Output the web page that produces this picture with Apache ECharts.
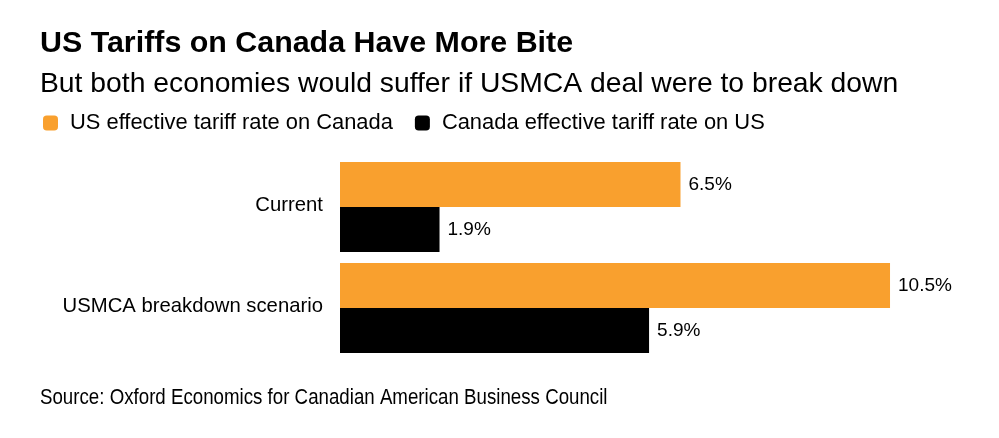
<!DOCTYPE html>
<html>
<head>
<meta charset="utf-8">
<script src="https://cdn.jsdelivr.net/npm/echarts@6/dist/echarts.min.js"></script>
<style>
  html, body { margin: 0; padding: 0; background: #fff; }
  #chart { width: 999px; height: 438px; }
</style>
</head>
<body>
<div id="chart"></div>
<script>
// data
const categories = ['Current', 'USMCA breakdown scenario'];
const seriesNames = ['US effective tariff rate on Canada', 'Canada effective tariff rate on US'];
const usOnCanada = [6.5, 10.5];
const canadaOnUs = [1.9, 5.9];

const font = '"Liberation Sans", Arial, sans-serif';
const orange = '#F9A02E';

const chart = echarts.init(document.getElementById('chart'), null, { renderer: 'canvas' });

const valueLabel = {
  show: true,
  position: 'right',
  distance: 8,
  color: '#000',
  fontFamily: font,
  fontSize: 19,
  formatter: p => p.value + '%'
};

chart.setOption({
  animation: false,
  backgroundColor: '#fff',
  title: [
    {
      text: 'US Tariffs on Canada Have More Bite',
      left: 40, top: 29, padding: 0,
      textStyle: { fontFamily: font, fontSize: 30.4, fontWeight: 'bold', color: '#000', lineHeight: 30 }
    },
    {
      text: 'But both economies would suffer if USMCA deal were to break down',
      left: 40, top: 70, padding: 0,
      textStyle: { fontFamily: font, fontSize: 28.3, fontWeight: 'normal', color: '#000', lineHeight: 28 }
    }
  ],
  legend: {
    left: 43, top: 109,
    padding: 0,
    itemWidth: 15, itemHeight: 15,
    itemGap: 22,
    icon: 'roundRect',
    selectedMode: false,
    data: seriesNames,
    textStyle: {
      fontFamily: font, fontSize: 21.9, color: '#000',
      lineHeight: 22, padding: [0, 0, 6, 7]
    }
  },
  grid: { left: 340, top: 156.5, height: 202, width: 628.6, containLabel: false },
  xAxis: {
    type: 'value', min: 0, max: 12,
    show: false
  },
  yAxis: {
    type: 'category',
    data: categories,
    inverse: true,
    axisLine: { show: false },
    axisTick: { show: false },
    splitLine: { show: false },
    axisLabel: {
      margin: 17,
      color: '#000',
      fontFamily: font,
      fontSize: 20.3,
      verticalAlign: 'bottom',
      lineHeight: 4
    }
  },
  series: [
    {
      name: seriesNames[0],
      type: 'bar',
      data: usOnCanada,
      barWidth: 45,
      barGap: '0%',
      itemStyle: { color: orange },
      label: valueLabel
    },
    {
      name: seriesNames[1],
      type: 'bar',
      data: canadaOnUs,
      barWidth: 45,
      barGap: '0%',
      itemStyle: { color: '#000' },
      label: valueLabel
    }
  ],
  graphic: [
    {
      // source line is set in a condensed face; squeeze the regular one
      type: 'text',
      x: 40, y: 398,
      scaleX: 0.85,
      style: {
        x: 0, y: 0,
        text: 'Source: Oxford Economics for Canadian American Business Council',
        fill: '#000',
        font: '22px "Liberation Sans", Arial, sans-serif',
        verticalAlign: 'middle'
      }
    }
  ]
});
</script>
</body>
</html>
